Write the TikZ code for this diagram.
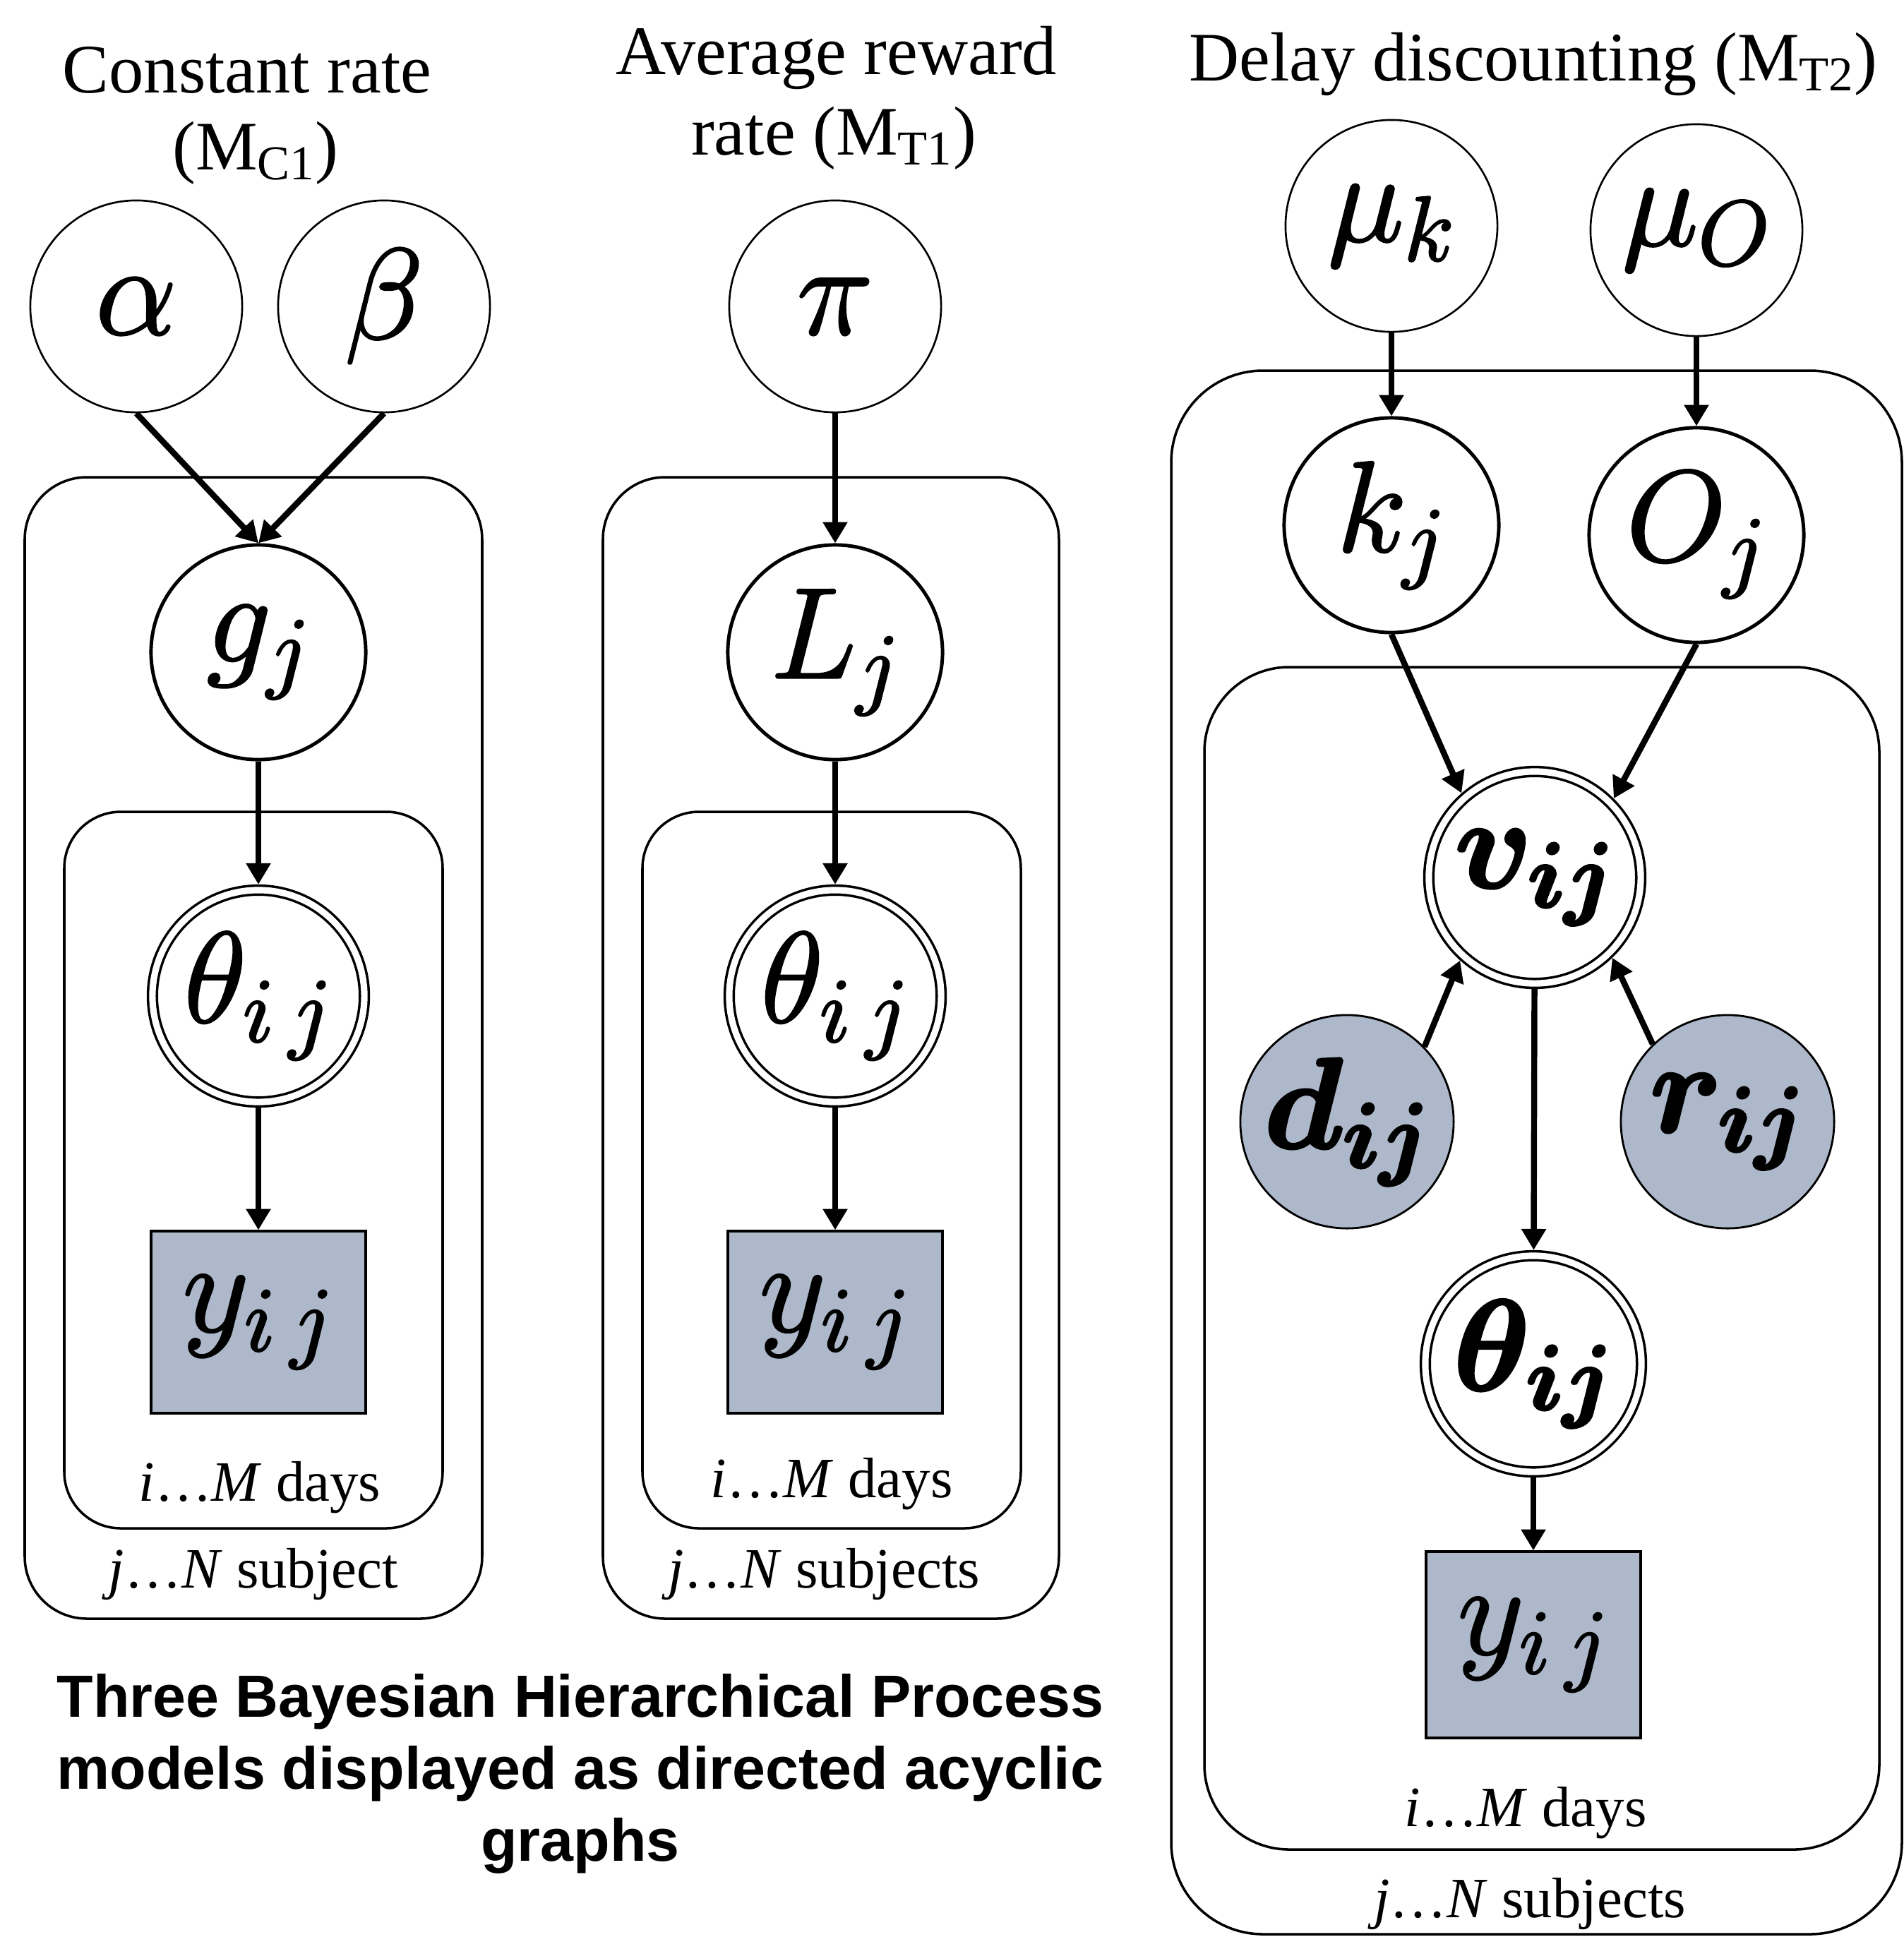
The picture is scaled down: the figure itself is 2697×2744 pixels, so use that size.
\RequirePackage{fix-cm}
\documentclass[tikz,border=0pt]{standalone}
\usepackage{amsmath}
\usepackage{bm}
\usepackage{fontspec}
\setmainfont{Liberation Serif}
\newfontfamily\capfont{Liberation Sans}
\usetikzlibrary{arrows.meta}
\definecolor{obsfill}{HTML}{ADB9CA}
\DeclareMathSizes{52}{52}{37}{28}
\newcommand{\mathbig}{\fontsize{52}{62}\selectfont}
\newcommand{\heavy}[1]{\special{pdf:literal direct 2 Tr 0.8 w}#1\special{pdf:literal direct 0 Tr}}
\newcommand{\heavier}[1]{\special{pdf:literal direct 2 Tr 1.1 w}#1\special{pdf:literal direct 0 Tr}}
\begin{document}
\begin{tikzpicture}[x=0.01cm,y=-0.01cm,
  latent/.style={circle,draw,line width=0.75pt,minimum size=3.0cm,inner sep=0pt,font=\mathbig},
  latentb/.style={latent,line width=1.4pt,minimum size=3.04cm},
  detnode/.style={circle,draw,line width=1.0pt,double,double distance=2.6pt,inner sep=0pt,minimum size=3.0cm,font=\mathbig,outer sep=2.3pt},
  obsnode/.style={circle,draw,line width=0.8pt,fill=obsfill,minimum size=3.02cm,inner sep=0pt,font=\mathbig},
  obsbox/.style={rectangle,draw,line width=1.15pt,fill=obsfill,minimum width=3.03cm,minimum height=2.57cm,inner sep=0pt,font=\mathbig},
  platebox/.style={draw,line width=1.0pt},
  platelabel/.style={anchor=base,font=\fontsize{23}{28}\selectfont},
  titletext/.style={anchor=base,font=\fontsize{28}{33}\selectfont},
  arrowline/.style={line width=2.4pt,-{Triangle[length=8.5pt,width=9.5pt]}}
]
\useasboundingbox (0,0) rectangle (2697,2744);

% plates
\draw[platebox,rounded corners=0.88cm] (35,676) rectangle (683,2293);
\draw[platebox,rounded corners=0.8cm] (91,1150) rectangle (627,2165);
\draw[platebox,rounded corners=0.88cm] (854,676) rectangle (1500,2293);
\draw[platebox,rounded corners=0.8cm] (910,1150) rectangle (1446,2165);
\draw[platebox,rounded corners=1.3cm] (1659,525) rectangle (2694,2740);
\draw[platebox,rounded corners=1.2cm] (1706,945) rectangle (2662,2620);

% titles
\node[titletext] (t1a) at (350,131) {Constant rate};
\node[titletext] (t1b) at (362,240) {(M\textsubscript{C1})};
\node[titletext] (t2a) at (1185,105) {Average reward};
\node[titletext] (t2b) at (1181,219) {rate (M\textsubscript{T1})};
\node[titletext] (t3) at (2172,114) {Delay discounting (M\textsubscript{T2})};

% panel 1
\node[latent] (alpha) at (193,434) {\heavy{$\alpha$}};
\node[latent] (beta) at (544,434) {\heavy{$\beta$}};
\node[latentb] (g) at (366,924) {\heavy{$g_j$}};
\node[detnode] (th1) at (366,1411) {\heavy{$\theta_{i\,j}$}};
\node[obsbox] (y1) at (366,1873) {\heavy{$y_{i\,j}$}};

% panel 2
\node[latent] (pi) at (1183,434) {\heavy{$\pi$}};
\node[latentb] (L) at (1183,924) {\heavy{$L_j$}};
\node[detnode] (th2) at (1183,1411) {\heavy{$\theta_{i\,j}$}};
\node[obsbox] (y2) at (1183,1873) {\heavy{$y_{i\,j}$}};

% panel 3
\node[latent] (muk) at (1971,320) {\heavy{$\mu_k$}};
\node[latent] (muo) at (2403,326) {\heavy{$\mu_O$}};
\node[latentb] (k) at (1971,744) {\heavy{$k_j$}};
\node[latentb] (o) at (2403,758) {\heavy{$O_j$}};
\node[detnode] (v) at (2174,1243) {\heavier{$\bm{v}_{\bm{ij}}$}};
\node[obsnode] (d) at (1908,1589) {\heavier{$\bm{d}_{\bm{ij}}$}};
\node[obsnode] (r) at (2447,1589) {\heavier{$\bm{r}_{\bm{ij}}$}};
\node[detnode,minimum size=3.06cm] (th3) at (2172,1932) {\heavier{$\bm{\theta}_{\bm{ij}}$}};
\node[obsbox,minimum height=2.63cm] (y3) at (2172,2330) {\heavy{$y_{i\,j}$}};

% plate labels
\node[platelabel] (days1) at (368,2126) {\textit{i}…\textit{M} days};
\node[platelabel] (subj1) at (359,2249) {\textit{j}…\textit{N} subject};
\node[platelabel] (days2) at (1178,2121) {\textit{i}…\textit{M} days};
\node[platelabel] (subj2) at (1167,2249) {\textit{j}…\textit{N} subjects};
\node[platelabel] (days3) at (2161,2587) {\textit{i}…\textit{M} days};
\node[platelabel] (subj3) at (2167,2716) {\textit{j}…\textit{N} subjects};

% caption
\node[font=\capfont\bfseries\fontsize{24}{29}\selectfont,align=center] (caption) at (822,2513)
  {Three Bayesian Hierarchical Process\\models displayed as directed acyclic\\graphs};

% arrows
\draw[arrowline] (alpha.south) -- (g.north);
\draw[arrowline] (beta.south) -- (g.north);
\draw[arrowline] (g) -- (th1);
\draw[arrowline] (th1) -- (y1);
\draw[arrowline] (pi) -- (L);
\draw[arrowline] (L) -- (th2);
\draw[arrowline] (th2) -- (y2);
\draw[arrowline] (muk) -- (k);
\draw[arrowline] (muo) -- (o);
\draw[arrowline] (k.south) -- (v.131);
\draw[arrowline] (o.south) -- (v.45);
\draw[arrowline] (d.44) -- (v.228);
\draw[arrowline] (r.134) -- (v.314);
\draw[arrowline] (v) -- (th3);
\draw[arrowline] (th3) -- (y3);
\end{tikzpicture}
\end{document}
